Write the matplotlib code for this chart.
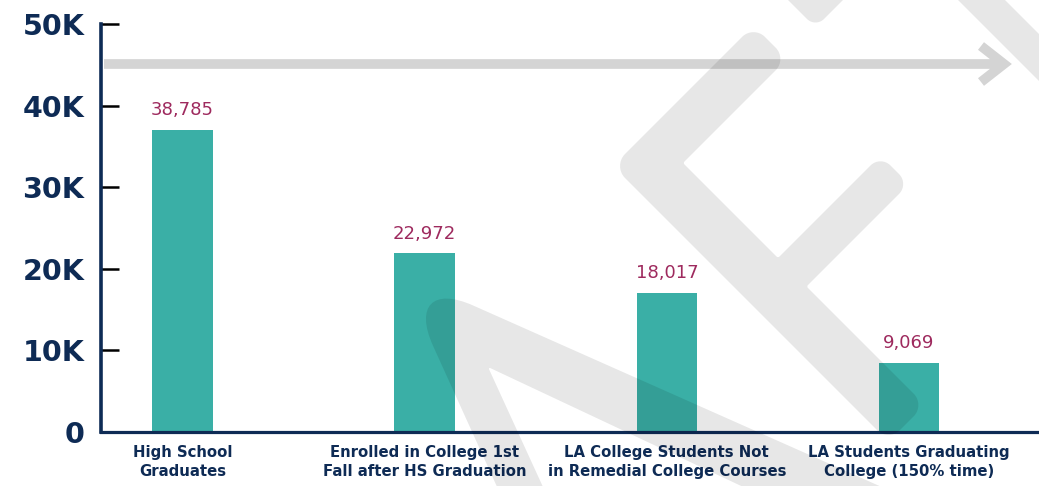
import numpy as np
import matplotlib.pyplot as plt
from matplotlib.path import Path
from matplotlib.patches import PathPatch

categories = ["High School\nGraduates",
              "Enrolled in College 1st\nFall after HS Graduation",
              "LA College Students Not\nin Remedial College Courses",
              "LA Students Graduating\nCollege (150% time)"]
# printed values, and bar heights as they are drawn in the original (shorter than the labels)
values = [38785, 22972, 18017, 9069]
bar_heights = [37000, 21900, 17050, 8500]
yticks = [0, 10000, 20000, 30000, 40000, 50000]
ytick_labels = ["0", "10K", "20K", "30K", "40K", "50K"]

navy = "#0e2b55"
teal = "#3aafa6"
maroon = "#9e2a5e"

W, H = 1039, 486
fig = plt.figure(figsize=(W / 100, H / 100), dpi=100)
ax = fig.add_axes([101 / W, 1 - 432 / H, 1 - 101 / W, (432 - 24) / H])

x = np.arange(len(categories))
ax.bar(x, bar_heights, width=0.25, color=teal, zorder=2)
for xi, h, v in zip(x, bar_heights, values):
    ax.annotate(f"{v:,}", (xi, h), xytext=(0, 10.5), textcoords="offset points",
                ha="center", va="baseline", fontsize=13, color=maroon)

ax.set_xlim(-0.337, 3.537)
ax.set_ylim(0, 50000)
ax.set_yticks(yticks)
ax.set_yticklabels(ytick_labels, fontsize=20.5, fontweight="bold", color=navy)
ax.set_xticks(x)
ax.set_xticklabels(categories, fontsize=10.7, fontweight="bold", color=navy, linespacing=1.35)
ax.tick_params(axis="y", direction="in", length=13, width=1.8, color="black", pad=12)
ax.tick_params(axis="x", length=0, pad=9)
for s in ["top", "right"]:
    ax.spines[s].set_visible(False)
ax.spines["left"].set_color(navy)
ax.spines["left"].set_linewidth(2.6)
ax.spines["bottom"].set_color(navy)
ax.spines["bottom"].set_linewidth(2.3)


# watermark overlay, drawn in pixel coordinates of the figure
def rounded(pts):
    pts = np.asarray(pts, float)
    n = len(pts)
    verts, codes = [], []
    for i in range(n):
        p, r = pts[i, :2], pts[i, 2]
        a, b = pts[i - 1, :2], pts[(i + 1) % n, :2]
        da = (a - p) / np.linalg.norm(a - p)
        db = (b - p) / np.linalg.norm(b - p)
        ra = min(r, np.linalg.norm(a - p) / 2)
        rb = min(r, np.linalg.norm(b - p) / 2)
        verts.append(p + da * ra)
        codes.append(Path.MOVETO if i == 0 else Path.LINETO)
        verts += [p + da * ra * 0.45, p + db * rb * 0.45, p + db * rb]
        codes += [Path.CURVE4] * 3
    verts.append(verts[0])
    codes.append(Path.CLOSEPOLY)
    return Path(verts, codes)


shape_a = [(613, 166, 17), (753.5, 25.5, 16), (787, 59, 16), (683, 163, 2),
           (778, 258, 2), (880.5, 155.5, 14), (909, 184, 14), (806.5, 286.5, 2),
           (925, 405, 16), (888.5, 441.5, 16)]
shape_b = [(503, 500, 0), (400, 273, 80), (911, 500, 0), (771, 500, 0),
           (488, 367, 3), (549, 500, 0)]
shape_c = [(778, -10, 0), (853, -10, 0), (815.5, 27.5, 12)]
shape_d = [(948, -10, 0), (995, -10, 0), (1050, 45, 0), (1050, 92, 0)]

ov = fig.add_axes([0, 0, 1, 1], zorder=5)
ov.set_xlim(0, W)
ov.set_ylim(H, 0)
ov.axis("off")
ov.patch.set_alpha(0)
for shp in [shape_a, shape_b, shape_c, shape_d]:
    ov.add_patch(PathPatch(rounded(shp), facecolor="black", alpha=0.095, lw=0))

arrow_x = [104, 1001, np.nan, 981, 1004, 981]
arrow_y = [64, 64, np.nan, 46, 64, 82]
ov.plot(arrow_x, arrow_y, color="black", alpha=0.17, lw=7,
        solid_capstyle="butt", solid_joinstyle="miter")

fig.savefig("out.png", dpi=100)
